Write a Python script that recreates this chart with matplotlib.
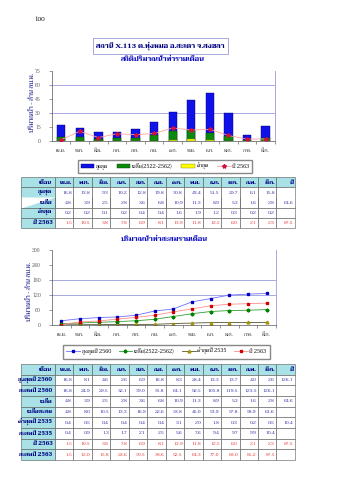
import matplotlib
matplotlib.use("Agg")
import matplotlib.pyplot as plt
from matplotlib.patches import Patch
from matplotlib.lines import Line2D
import numpy as np

plt.rcParams['font.family'] = ['Taviraj', 'DejaVu Serif']

# ---- data ----
months = ["เม.ย.", "พ.ค.", "มิ.ย.", "ก.ค.", "ส.ค.", "ก.ย.",
          "ต.ค.", "พ.ย.", "ธ.ค.", "ม.ค.", "ก.พ.", "มี.ค."]

# monthly statistics (million m3)
max_month = [16.8, 13.8, 9.3, 10.2, 12.8, 19.8, 30.8, 43.4, 51.5, 29.7, 6.1, 15.8]
mean_month = [4.8, 3.9, 2.5, 2.8, 3.6, 6.8, 10.9, 11.3, 8.9, 5.3, 1.6, 2.8]
min_month = [0.2, 0.2, 0.1, 0.2, 0.4, 0.4, 1.6, 1.9, 1.2, 0.3, 0.2, 0.2]
y2563 = [1.5, 10.5, 3.8, 7.8, 6.9, 8.1, 13.9, 11.8, 12.5, 6.0, 2.1, 2.3]
mean_year = 64.6
y2563_year = 87.5

# cumulative
max2560 = [16.8, 8.1, 4.6, 2.6, 6.9, 16.8, 8.3, 28.4, 13.3, 13.7, 4.0, 2.6]
max2560_cum = [16.8, 24.9, 29.5, 32.1, 39.0, 55.8, 64.1, 92.5, 105.8, 119.5, 123.5, 126.1]
mean_cum = [4.8, 8.0, 10.5, 13.3, 16.9, 22.6, 33.8, 45.0, 53.9, 57.8, 58.9, 61.6]
min2535 = [0.4, 0.5, 0.4, 0.4, 0.4, 0.4, 3.1, 2.0, 1.8, 0.3, 0.2, 0.5]
min2535_cum = [0.4, 0.9, 1.3, 1.7, 2.1, 2.5, 5.6, 7.6, 9.4, 9.7, 9.9, 10.4]
y2563_cum = [1.5, 12.0, 15.8, 23.6, 30.5, 38.6, 52.5, 64.3, 77.0, 83.0, 85.2, 87.5]
max2560_year = 126.1
min2535_year = 10.4

NAVY = '#000080'
BLUE_TXT = '#2a2aa0'
RED_TXT = '#e03030'
CYAN = '#a8e2e6'
GRID = '#9a9ae0'

fig = plt.figure(figsize=(3.39, 4.80), dpi=100)

fig.text(0.10, 0.958, '100', fontsize=4.5, ha='left', va='center')
fig.text(0.474, 0.904, 'สถานี X.113 ต.ทุ่งหมอ อ.สะเดา จ.สงขลา', fontsize=5, color=NAVY,
         fontweight='bold', ha='center', va='center',
         bbox=dict(boxstyle='square,pad=0.5', fc='white', ec='#9a9ad8', lw=0.6))
fig.text(0.48, 0.877, 'สถิติปริมาณน้ำท่ารายเดือน', fontsize=5, color='#1010c0',
         fontweight='bold', ha='center', va='center')


def style_axes(ax, ymax, step, grid_vals):
    ax.set_xlim(-0.5, 11.5)
    ax.set_ylim(0, ymax)
    ax.set_yticks(np.arange(0, ymax + 1, step))
    for g in grid_vals:
        ax.axhline(g, color=GRID, lw=0.6, zorder=0)
    ax.set_xticks(np.arange(12))
    ax.set_xticklabels(months)
    ax.set_xticks(np.arange(12) + 0.5, minor=True)
    ax.tick_params(axis='x', which='major', length=0, labelsize=3.6, pad=5, colors='#333333')
    ax.tick_params(axis='x', which='minor', length=2, width=0.4, color='#444444')
    ax.tick_params(axis='y', length=2, width=0.4, labelsize=3.6, colors='#555555', pad=6)
    ax.spines['top'].set_visible(False)
    ax.spines['right'].set_color(GRID)
    ax.spines['right'].set_linewidth(0.6)
    ax.spines['left'].set_linewidth(0.5)
    ax.spines['left'].set_color('#555555')
    ax.spines['bottom'].set_linewidth(0.5)
    ax.spines['bottom'].set_color('#555555')


# ---- chart 1: monthly bars ----
ax1 = fig.add_axes([0.153, 0.706, 0.658, 0.147])
x = np.arange(12)
ax1.bar(x, max_month, width=0.45, color='#1010e8', edgecolor='#000070', lw=0.3, zorder=2)
ax1.bar(x, mean_month, width=0.45, color='#0a8a0a', edgecolor='#004000', lw=0.3, zorder=3)
ax1.bar(x, min_month, width=0.45, color='#ffff00', edgecolor='#808000', lw=0.3, zorder=4)
ax1.plot(x, y2563, color='#ff9f9f', lw=0.6, marker='*', ms=3, mfc='#d0103a',
         mec='#d0103a', zorder=5)
style_axes(ax1, 75, 15, [30, 60])
fig.text(0.097, 0.786, 'ปริมาณน้ำ - ล้าน ลบ.ม.', rotation=90, fontsize=4.5,
         color=NAVY, ha='center', va='center')

h1 = [Patch(fc='#1010e8', ec='#000070', lw=0.3),
      Patch(fc='#0a8a0a', ec='#004000', lw=0.3),
      Patch(fc='#ffff00', ec='#808000', lw=0.3),
      Line2D([], [], color='#ff9f9f', lw=0.6, marker='*', ms=3, mfc='#d0103a', mec='#d0103a')]
l1 = ['สูงสุด', 'เฉลี่ย(2522-2562)', 'ต่ำสุด', 'ปี 2563']
fig.legend(h1, l1, loc='center', bbox_to_anchor=(0.487, 0.653), ncol=4, fontsize=3.8,
           frameon=True, fancybox=False, edgecolor='#888888', handlelength=2.6,
           handleheight=0.8, columnspacing=1.6, handletextpad=0.3, borderpad=0.5,
           framealpha=1)


# ---- tables ----
def fmt(v):
    return '' if v is None else f'{v:.1f}'


def draw_table(rect, labels, rows, years, red_rows, group_pairs=()):
    axt = fig.add_axes(rect)
    axt.axis('off')
    text = [['เดือน'] + months + ['ปี']]
    for lab, vals, yr in zip(labels, rows, years):
        text.append([lab] + [fmt(v) for v in vals] + [fmt(yr)])
    widths = [0.124] + [0.876 / 13] * 13
    tbl = axt.table(cellText=text, colWidths=widths, bbox=[0, 0, 1, 1], cellLoc='right')
    tbl.auto_set_font_size(False)
    for (r, c), cell in tbl.get_celld().items():
        cell.set_linewidth(0.4)
        cell.set_edgecolor('#555555')
        t = cell.get_text()
        t.set_fontsize(3.5)
        cell.PAD = 0.08
        if r == 0 or c == 0:
            cell.set_facecolor(CYAN)
            cell._loc = 'center'
            t.set_color(NAVY)
            t.set_fontweight('bold')
            t.set_fontsize(4)
        else:
            cell.set_facecolor('white')
            t.set_color(RED_TXT if r in red_rows else BLUE_TXT)
        for top, bot in group_pairs:
            if r == top:
                cell.visible_edges = 'LRT'
            elif r == bot:
                cell.visible_edges = 'LRB'
    return tbl


draw_table([0.062, 0.525, 0.808, 0.106],
           ['สูงสุด', 'เฉลี่ย', 'ต่ำสุด', 'ปี 2563'],
           [max_month, mean_month, min_month, y2563],
           [None, mean_year, None, y2563_year],
           red_rows={4}, group_pairs=[(1, 2)])

# ---- chart 2: cumulative lines ----
fig.text(0.485, 0.502, 'ปริมาณน้ำท่าสะสมรายเดือน', fontsize=5, color='#1010c0',
         fontweight='bold', ha='center', va='center')
ax2 = fig.add_axes([0.153, 0.323, 0.661, 0.156])
ax2.plot(x, max2560_cum, color='#7070ff', lw=0.6, marker='s', ms=2, mfc='#0000c0', mec='#0000c0')
ax2.plot(x, mean_cum, color='#30a030', lw=0.6, marker='P', ms=2, mfc='#008000', mec='#008000')
ax2.plot(x, min2535_cum, color='#555533', lw=0.6, marker='^', ms=2, mfc='#ffff40', mec='#a09000')
ax2.plot(x, y2563_cum, color='#ff8f8f', lw=0.6, marker='s', ms=2, mfc='#d00000', mec='#d00000')
style_axes(ax2, 300, 60, [120, 180])
fig.text(0.088, 0.393, 'ปริมาณน้ำ - ล้าน ลบ.ม.', rotation=90, fontsize=4.5,
         color=NAVY, ha='center', va='center')

h2 = [Line2D([], [], color='#7070ff', lw=0.6, marker='s', ms=2, mfc='#0000c0', mec='#0000c0'),
      Line2D([], [], color='#30a030', lw=0.6, marker='P', ms=2, mfc='#008000', mec='#008000'),
      Line2D([], [], color='#555533', lw=0.6, marker='^', ms=2, mfc='#ffff40', mec='#a09000'),
      Line2D([], [], color='#ff8f8f', lw=0.6, marker='s', ms=2, mfc='#d00000', mec='#d00000')]
l2 = ['สูงสุดปี 2560', 'เฉลี่ย(2522-2562)', 'ต่ำสุดปี 2535', 'ปี 2563']
fig.legend(h2, l2, loc='center', bbox_to_anchor=(0.491, 0.267), ncol=4, fontsize=3.8,
           frameon=True, fancybox=False, edgecolor='#888888', handlelength=2.6,
           columnspacing=1.4, handletextpad=0.3, borderpad=0.6, framealpha=1)

draw_table([0.062, 0.042, 0.808, 0.2],
           ['สูงสุดปี 2560', 'สะสมปี 2560', 'เฉลี่ย', 'เฉลี่ยสะสม',
            'ต่ำสุดปี 2535', 'สะสมปี 2535', 'ปี 2563', 'สะสมปี 2563'],
           [max2560, max2560_cum, mean_month, mean_cum,
            min2535, min2535_cum, y2563, y2563_cum],
           [max2560_year, None, mean_year, None, min2535_year, None, y2563_year, None],
           red_rows={7, 8})

fig.savefig('out.png', dpi=100)
